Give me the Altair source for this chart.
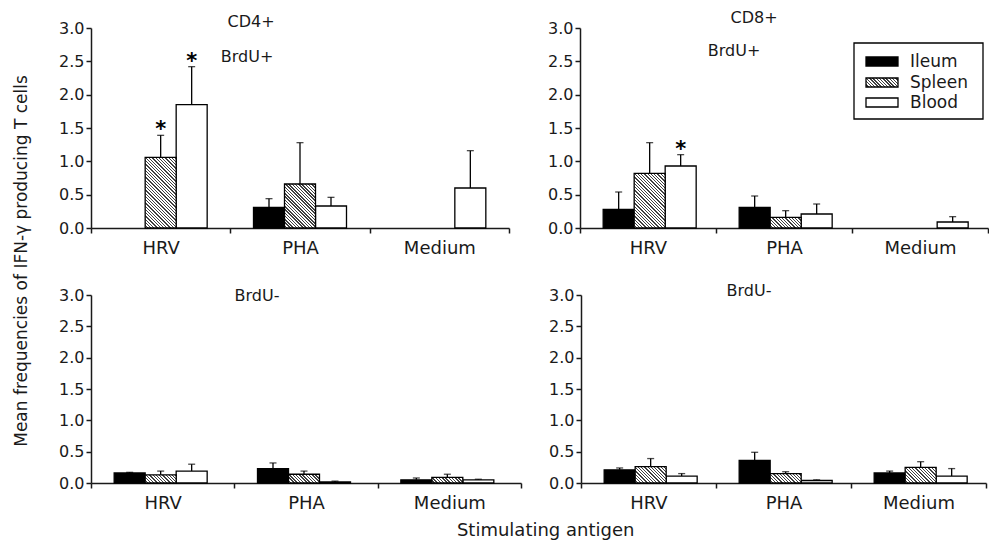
import math
import altair as alt
import pandas as pd

# ---------------- data ----------------
antigens = ["HRV", "PHA", "Medium"]
tissues = ["Ileum", "Spleen", "Blood"]

# rows: Ileum, Spleen, Blood ; columns: HRV, PHA, Medium
cd4_pos_mean = [[0.00, 0.31, 0.00], [1.06, 0.66, 0.00], [1.85, 0.33, 0.60]]
cd4_pos_upper = [[0.00, 0.44, 0.00], [1.39, 1.28, 0.00], [2.42, 0.46, 1.16]]
cd4_pos_sig = [[0, 0, 0], [1, 0, 0], [1, 0, 0]]

cd8_pos_mean = [[0.28, 0.31, 0.00], [0.82, 0.16, 0.00], [0.93, 0.21, 0.09]]
cd8_pos_upper = [[0.54, 0.48, 0.00], [1.28, 0.26, 0.00], [1.10, 0.36, 0.17]]
cd8_pos_sig = [[0, 0, 0], [0, 0, 0], [1, 0, 0]]

cd4_neg_mean = [[0.16, 0.23, 0.05], [0.13, 0.14, 0.09], [0.19, 0.016, 0.05]]
cd4_neg_upper = [[0.17, 0.32, 0.08], [0.19, 0.19, 0.14], [0.30, 0.03, 0.06]]
cd4_neg_sig = [[0, 0, 0], [0, 0, 0], [0, 0, 0]]

cd8_neg_mean = [[0.21, 0.36, 0.16], [0.26, 0.15, 0.25], [0.11, 0.04, 0.11]]
cd8_neg_upper = [[0.24, 0.49, 0.19], [0.39, 0.18, 0.34], [0.15, 0.05, 0.23]]
cd8_neg_sig = [[0, 0, 0], [0, 0, 0], [0, 0, 0]]

y_ticks = [0.0, 0.5, 1.0, 1.5, 2.0, 2.5, 3.0]
y_max = 3.0

FONT = "DejaVu Sans"
INK = "#1a1a1a"
BAR_W = 31
SW = 1.3


def hatch(w, h, period=2.3, dark=0.42, color="#404040"):
    """Diagonal '\\' hatch as a linear gradient in bounding-box units."""
    t = (w + h) / (w * w + h * h)
    L = (w + h) / math.sqrt(2)
    n = int(math.ceil(L / period))
    stops = []
    for k in range(n):
        a = min(k * period / L, 1.0)
        b = min((k * period + period * (1 - dark)) / L, 1.0)
        c = min((k + 1) * period / L, 1.0)
        stops += [
            {"offset": a, "color": "white"},
            {"offset": b, "color": "white"},
            {"offset": b, "color": color},
            {"offset": c, "color": color},
        ]
    return {"gradient": "linear", "x1": 0, "y1": 1, "x2": t * w, "y2": 1 - t * h, "stops": stops}


def make_df(mean, upper, sig):
    rows = []
    for ti, t in enumerate(tissues):
        for ai, a in enumerate(antigens):
            rows.append({"antigen": a, "tissue": t, "mean": mean[ti][ai],
                         "upper": upper[ti][ai], "sig": sig[ti][ai]})
    return pd.DataFrame(rows)


def panel(mean, upper, sig, W, H, labels, legend=False):
    df = make_df(mean, upper, sig)
    p_out = (W / 3.0 / BAR_W - 3) / 2.0
    x = alt.X("antigen:N", sort=antigens,
              scale=alt.Scale(domain=antigens, paddingInner=0, paddingOuter=0),
              axis=alt.Axis(title=None, labelAngle=0, tickBand="extent", labelFontSize=18,
                            labelPadding=6, tickSize=5))
    xo = alt.XOffset("tissue:N", sort=tissues,
                     scale=alt.Scale(domain=tissues, paddingInner=0, paddingOuter=p_out))
    yscale = alt.Scale(domain=[0, y_max], nice=False, zero=True)
    yaxis = alt.Axis(title=None, values=y_ticks, format=".1f", grid=False,
                     labelFontSize=16, labelPadding=2, tickSize=5)
    base = alt.Chart(df).encode(x=x, xOffset=xo)

    layers = []
    layers.append(base.transform_filter("datum.tissue == 'Ileum' && datum.mean > 0")
                  .mark_bar(fill="black", stroke="black", strokeWidth=SW)
                  .encode(y=alt.Y("mean:Q", scale=yscale, axis=yaxis)))
    layers.append(base.transform_filter("datum.tissue == 'Blood' && datum.mean > 0")
                  .mark_bar(fill="white", stroke="black", strokeWidth=SW)
                  .encode(y=alt.Y("mean:Q", scale=yscale, axis=yaxis)))
    for ai, a in enumerate(antigens):
        v = mean[1][ai]
        if v <= 0:
            continue
        h = v / y_max * H
        layers.append(base.transform_filter(
            f"datum.tissue == 'Spleen' && datum.antigen == '{a}'")
            .mark_bar(fill=hatch(BAR_W, h), stroke="black", strokeWidth=SW)
            .encode(y=alt.Y("mean:Q", scale=yscale, axis=yaxis)))
    err = base.transform_filter("datum.upper > datum.mean")
    layers.append(err.mark_rule(color="black", strokeWidth=SW)
                  .encode(y=alt.Y("mean:Q", scale=yscale, axis=yaxis), y2="upper:Q"))
    layers.append(err.mark_tick(color="black", size=7, thickness=SW, orient="horizontal")
                  .encode(y=alt.Y("upper:Q", scale=yscale, axis=yaxis)))
    layers.append(base.transform_filter("datum.sig == 1")
                  .mark_text(text="*", fontSize=21, font=FONT, color="black",
                             fontWeight="bold", baseline="alphabetic", dy=1)
                  .encode(y=alt.Y("upper:Q", scale=yscale, axis=yaxis)))

    one = alt.Chart(pd.DataFrame({"k": [0]}))
    for txt, lx, ly in labels:
        layers.append(one.mark_text(text=txt, fontSize=16, font=FONT, color=INK,
                                    align="center", baseline="middle")
                      .encode(x=alt.value(lx), y=alt.value(ly)))
    if legend:
        layers.append(one.mark_rect(fill="white", stroke="black", strokeWidth=SW)
                      .encode(x=alt.value(274), x2=alt.value(403),
                              y=alt.value(15), y2=alt.value(91)))
        fills = ["black", hatch(32, 9), "white"]
        ys = [29, 50, 70]
        for t, f, yy in zip(tissues, fills, ys):
            layers.append(one.mark_rect(fill=f, stroke="black", strokeWidth=SW)
                          .encode(x=alt.value(286), x2=alt.value(318),
                                  y=alt.value(yy), y2=alt.value(yy + 9)))
            layers.append(one.mark_text(text=t, fontSize=17, font=FONT, color=INK,
                                        align="left", baseline="middle")
                          .encode(x=alt.value(330), y=alt.value(yy + 4.5)))
    return alt.layer(*layers).properties(width=W, height=H)


tl = panel(cd4_pos_mean, cd4_pos_upper, cd4_pos_sig, 418, 200,
           [("CD4+", 160, -6), ("BrdU+", 156, 29)])
tr = panel(cd8_pos_mean, cd8_pos_upper, cd8_pos_sig, 408, 200,
           [("CD8+", 174, -10), ("BrdU+", 154, 23)], legend=True)
bl = panel(cd4_neg_mean, cd4_neg_upper, cd4_neg_sig, 430, 188,
           [("BrdU-", 166, 1)])
br = panel(cd8_neg_mean, cd8_neg_upper, cd8_neg_sig, 405, 188,
           [("BrdU-", 168, -4)])

row1 = alt.hconcat(tl, tr, spacing=71, bounds="flush")
row2 = alt.hconcat(bl, br, spacing=60, bounds="flush")
inner = alt.vconcat(row1, row2, spacing=26).properties(
    title=alt.TitleParams(text="Mean frequencies of IFN-\u03b3 producing T cells",
                          orient="left", anchor="middle", fontSize=17, font=FONT,
                          fontWeight="normal", color=INK, offset=28))
chart = alt.vconcat(inner).properties(
    title=alt.TitleParams(text="Stimulating antigen", orient="bottom", anchor="middle",
                          fontSize=18, font=FONT, fontWeight="normal", color=INK,
                          offset=10, dx=45),
    padding={"left": 4, "top": 2, "right": 0, "bottom": 0},
).configure_view(stroke=None).configure_axis(
    domainColor=INK, domainWidth=1.5, tickColor=INK, tickWidth=1.5,
    labelFont=FONT, labelColor=INK,
).configure_concat(spacing=0)

chart.save("out.html", embed_options={"renderer": "svg", "actions": False})
